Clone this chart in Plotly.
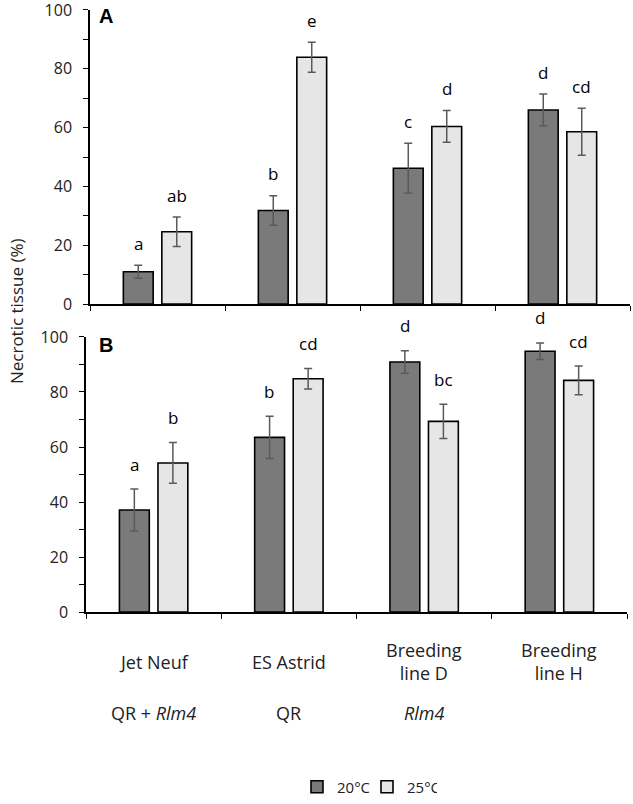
import plotly.graph_objects as go

categories = ["Jet Neuf", "ES Astrid", "Breeding<br>line D", "Breeding<br>line H"]
resistance = ["QR + <i>Rlm4</i>", "QR", "<i>Rlm4</i>", ""]
series_names = ["20°C", "25°C"]

# Panel A
a_20 = [11.0, 31.8, 46.2, 66.0]
a_20_err = [2.2, 5.0, 8.5, 5.4]
a_25 = [24.6, 83.9, 60.4, 58.6]
a_25_err = [5.0, 5.1, 5.4, 8.0]
a_20_letters = ["a", "b", "c", "d"]
a_25_letters = ["ab", "e", "d", "cd"]

# Panel B
b_20 = [37.1, 63.5, 90.9, 94.8]
b_20_err = [7.6, 7.7, 4.1, 3.0]
b_25 = [54.2, 84.8, 69.3, 84.2]
b_25_err = [7.4, 3.7, 6.2, 5.2]
b_20_letters = ["a", "b", "d", "d"]
b_25_letters = ["b", "cd", "bc", "cd"]

W, H = 633, 804


def px(x):
    return x / W


def py(y):
    return 1 - y / H


DARK = "#7a7a7a"
LIGHT = "#e6e6e6"
ERR = "#5a5a5a"
FONT = "Open Sans"

fig = go.Figure()


def add_bars(vals, errs, name, color, xa, ya, show):
    fig.add_trace(go.Bar(
        x=categories, y=vals, name=name, xaxis=xa, yaxis=ya,
        marker=dict(color=color, line=dict(color="black", width=1.6)),
        error_y=dict(type="data", array=errs, visible=True, color=ERR,
                     thickness=1.5, width=4),
        showlegend=show,
    ))


add_bars(a_20, a_20_err, series_names[0], DARK, "x", "y", True)
add_bars(a_25, a_25_err, series_names[1], LIGHT, "x", "y", True)
add_bars(b_20, b_20_err, series_names[0], DARK, "x2", "y2", False)
add_bars(b_25, b_25_err, series_names[1], LIGHT, "x2", "y2", False)

annotations = []
OFF = 19.4  # half distance between grouped bar centres, px
for xa, ya, vals, errs, letters, sh, ysh in [
    ("x", "y", a_20, a_20_err, a_20_letters, -OFF, 22),
    ("x", "y", a_25, a_25_err, a_25_letters, OFF, 22),
    ("x2", "y2", b_20, b_20_err, b_20_letters, -OFF, 25),
    ("x2", "y2", b_25, b_25_err, b_25_letters, OFF, 25),
]:
    for c, v, e, t in zip(categories, vals, errs, letters):
        annotations.append(dict(
            x=c, y=v + e, xref=xa, yref=ya, text=t, showarrow=False,
            xshift=sh, yshift=ysh, yanchor="middle",
            font=dict(family=FONT, size=17, color="black")))

for c, r in zip(categories, resistance):
    annotations.append(dict(
        x=c, y=py(666), xref="x2", yref="paper", text=c, showarrow=False,
        yanchor="middle", font=dict(family=FONT, size=18, color="#222")))
    if r:
        annotations.append(dict(
            x=c, y=py(717), xref="x2", yref="paper", text=r, showarrow=False,
            yanchor="middle", font=dict(family=FONT, size=18, color="#222")))

annotations.append(dict(
    x=px(16), y=py(313), xref="paper", yref="paper",
    text="Necrotic tissue (%)", textangle=-90, showarrow=False,
    xanchor="center", yanchor="middle",
    font=dict(family=FONT, size=17, color="#222")))
annotations.append(dict(
    x=px(97), y=py(16), xref="paper", yref="paper", text="<b>A</b>",
    showarrow=False, xanchor="left", yanchor="middle",
    font=dict(family="Liberation Sans", size=20, color="black")))
annotations.append(dict(
    x=px(97), y=py(347), xref="paper", yref="paper", text="<b>B</b>",
    showarrow=False, xanchor="left", yanchor="middle",
    font=dict(family="Liberation Sans", size=20, color="black")))

yax = dict(range=[0, 100], dtick=20, showgrid=False, zeroline=False,
           showline=True, linecolor="black", linewidth=1.5,
           ticks="outside", ticklen=5, tickwidth=1.3, tickcolor="black",
           ticklabelstandoff=8, automargin=False, ticklabeloverflow="allow",
           minor=dict(dtick=10, ticks="outside", ticklen=5, tickwidth=1.3,
                      tickcolor="black", showgrid=False),
           tickfont=dict(family=FONT, size=16, color="#222"))
xax = dict(showgrid=False, zeroline=False, showline=True, linecolor="black",
           linewidth=1.5, ticks="outside", ticklen=5, tickwidth=1.3,
           tickcolor="black", tickson="boundaries", showticklabels=False,
           automargin=False, type="category")

fig.update_layout(
    width=W, height=H,
    margin=dict(l=0, r=0, t=0, b=0),
    paper_bgcolor="white", plot_bgcolor="white",
    barmode="group", bargap=0.43, bargroupgap=0.225,
    xaxis=dict(xax, domain=[px(90), px(630)], anchor="y"),
    yaxis=dict(yax, domain=[py(306), py(10)], anchor="x"),
    xaxis2=dict(xax, domain=[px(86), px(627)], anchor="y2"),
    yaxis2=dict(yax, domain=[py(616), py(339)], anchor="x2"),
    legend=dict(orientation="h", x=px(297), xanchor="left",
                y=py(792), yanchor="middle",
                font=dict(family=FONT, size=15, color="#222"),
                itemwidth=30, entrywidth=25, entrywidthmode="pixels",
                bgcolor="rgba(0,0,0,0)"),
    annotations=annotations,
    font=dict(family=FONT),
)

fig.write_html("out.html", config={"displayModeBar": False},
               post_script="document.body.style.margin='0';")
